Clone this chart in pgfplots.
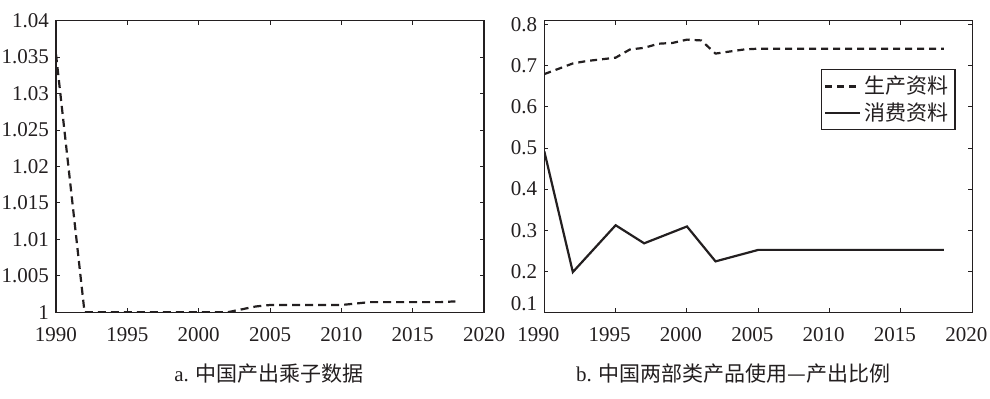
\documentclass[border=0pt]{standalone}
\usepackage{pgfplots}
\pgfplotsset{compat=1.18}
\usepackage{fontspec}
\setmainfont{Liberation Serif}
\newfontfamily\cjk{Noto Sans CJK SC}
\definecolor{ink}{RGB}{35,31,32}
\begin{document}
\begin{tikzpicture}
\useasboundingbox (0,-42.85pt) rectangle (495pt,156.15pt);
\pgfplotsset{every axis/.append style={
  scale only axis, width=214pt, height=145.8pt, anchor=south west,
  xmin=1990, xmax=2020, xtick={1990,1995,2000,2005,2010,2015,2020},
  tick align=inside, major tick length=2pt,
  every tick/.style={ink, line width=0.5pt},
  axis line style={ink, line width=0.6pt},
  tick label style={font=\fontsize{10.5}{12}\selectfont, text=ink},
  /pgf/number format/assume math mode=true,
  x tick label style={yshift=-4pt, /pgf/number format/1000 sep={}},
  scaled y ticks=false,
}}
\begin{axis}[at={(28pt,0pt)},
  ymin=1, ymax=1.04,
  ytick={1,1.005,1.01,1.015,1.02,1.025,1.03,1.035,1.04},
  y tick label style={/pgf/number format/fixed, /pgf/number format/precision=3},
]
\addplot[ink, line width=1.1pt, dash pattern=on 4pt off 2.5pt] coordinates {
(1990,1.0354) (1992,1.0000) (1993,1.0000) (1994,1.0000) (1995,1.0000)
(1996,1.0000) (1997,1.0000) (1998,1.0000) (1999,1.0000) (2000,1.0000)
(2001,1.0000) (2002,1.0000) (2003,1.0004) (2004,1.0008) (2005,1.0010)
(2006,1.0010) (2007,1.0010) (2008,1.0010) (2009,1.0010) (2010,1.0010)
(2011,1.0012) (2012,1.0014) (2013,1.0014) (2014,1.0014) (2015,1.0014)
(2016,1.0014) (2017,1.0014) (2018,1.0015)};
\end{axis}
\begin{axis}[at={(272.15pt,0pt)},
  ymin=0.1, ymax=0.81,
  ytick={0.2,0.3,0.4,0.5,0.6,0.7,0.8},
  extra y ticks={0.1},
  extra y tick style={major tick length=0pt, y tick label style={yshift=4.5pt}},
  y tick label style={/pgf/number format/fixed, /pgf/number format/precision=1},
  x tick label style={xshift=-3pt},
  legend style={at={(0.961,0.834)}, anchor=north east, draw=ink, line width=0.6pt,
    font=\cjk\fontsize{10.5}{11.5}\selectfont, text=ink, inner sep=1.2pt, row sep=-1pt},
  legend cell align=left,
]
\addplot[ink, line width=1.1pt, dash pattern=on 3.5pt off 2.5pt] coordinates {
(1990,0.680) (1991,0.693) (1992,0.706) (1993,0.712) (1994,0.716) (1995,0.720)
(1996,0.740) (1997,0.744) (1998,0.754) (1999,0.756) (2000,0.764) (2001,0.762)
(2002,0.730) (2003,0.735) (2004,0.740) (2005,0.742) (2006,0.742) (2007,0.742)
(2008,0.742) (2009,0.742) (2010,0.742) (2011,0.742) (2012,0.742) (2013,0.742)
(2014,0.742) (2015,0.742) (2016,0.742) (2017,0.742) (2018,0.742)};
\addlegendentry{生产资料}
\addplot[ink, line width=1.1pt] coordinates {
(1990,0.492) (1992,0.198) (1995,0.312) (1997,0.268) (2000,0.309)
(2002,0.224) (2005,0.252) (2010,0.252) (2015,0.252) (2018,0.252)};
\addlegendentry{消费资料}
\end{axis}
\node[text=ink, font=\fontsize{10.5}{12}\selectfont] at (134.6pt,-30.5pt) {a. {\cjk 中国产出乘子数据}};
\node[text=ink, font=\fontsize{10.5}{12}\selectfont] at (366.7pt,-30.5pt) {b. {\cjk 中国两部类产品使用—产出比例}};
\end{tikzpicture}
\end{document}
